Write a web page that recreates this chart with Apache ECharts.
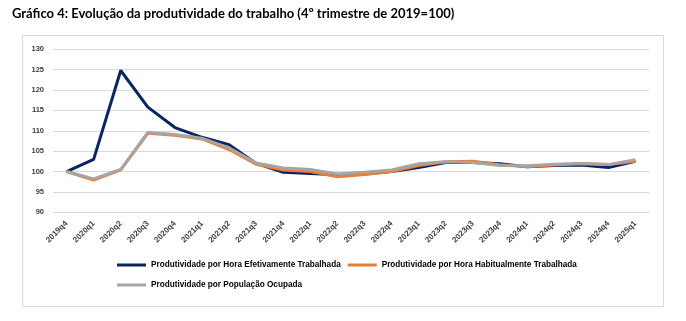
<!DOCTYPE html>
<html><head><meta charset="utf-8">
<script src="https://cdn.jsdelivr.net/npm/echarts@6/dist/echarts.min.js"></script>
<style>html,body{margin:0;padding:0;background:#fff}#c{width:686px;height:321px}</style>
</head><body><div id="c"></div>
<script>
const categories = ['2019q4','2020q1','2020q2','2020q3','2020q4','2021q1','2021q2','2021q3','2021q4','2022q1','2022q2','2022q3','2022q4','2023q1','2023q2','2023q3','2023q4','2024q1','2024q2','2024q3','2024q4','2025q1'];
const efetiva = [100, 103, 124.8, 115.8, 110.8, 108.4, 106.6, 102, 99.8, 99.5, 99.2, 99.4, 100, 101, 102.2, 102.2, 101.9, 101.2, 101.5, 101.6, 101, 102.5];
const habitual = [100, 97.9, 100.4, 109.4, 108.9, 108, 105.4, 101.8, 100.4, 100, 98.7, 99.3, 100, 101.5, 102.4, 102.5, 101.7, 101.2, 101.6, 102, 101.7, 102.5];
const populacao = [100, 98.2, 100.5, 109.6, 109.1, 108.2, 105.8, 102.1, 100.9, 100.5, 99.4, 99.8, 100.4, 101.9, 102.4, 102.2, 101.5, 101.4, 101.8, 102, 101.7, 102.9];
const names = ['Produtividade por Hora Efetivamente Trabalhada','Produtividade por Hora Habitualmente Trabalhada','Produtividade por População Ocupada'];
const yTicks = {min: 90, max: 130, interval: 5};

const chart = echarts.init(document.getElementById('c'), null, {renderer: 'canvas'});
const lg = {fontFamily: 'Liberation Sans Narrow, Liberation Sans', fontSize: 8.2, fontWeight: 'bold', color: '#000'};
chart.setOption({
  backgroundColor: '#fff',
  animation: false,
  title: {text: 'Gráfico 4: Evolução da produtividade do trabalho (4º trimestre de 2019=100)', left: 7, top: 2,
    textStyle: {fontFamily: 'Lato', fontWeight: 'bold', fontSize: 13, color: '#000'}},
  graphic: [{type: 'rect', shape: {x: 22.5, y: 35.5, width: 641, height: 271}, style: {fill: 'none', stroke: '#d9d9d9', lineWidth: 1}, z: -1}],
  legend: [
    {data: [names[0], names[1]], left: 117, top: 261, itemWidth: 29, itemHeight: 3, itemGap: 7, icon: 'rect', textStyle: lg, padding: 0},
    {data: [names[2]], left: 117, top: 281, itemWidth: 29, itemHeight: 3, itemGap: 7, icon: 'rect', textStyle: lg, padding: 0}
  ],
  grid: {left: 53, right: 37, top: 49.3, bottom: 108.7, containLabel: false},
  xAxis: {type: 'category', data: categories, boundaryGap: true,
    axisLine: {show: false}, axisTick: {show: false},
    axisLabel: {rotate: 45, interval: 0, margin: 10, fontFamily: 'Liberation Sans Narrow, Liberation Sans', fontSize: 8, fontWeight: 'bold', color: '#404040'}},
  yAxis: {type: 'value', min: yTicks.min, max: yTicks.max, interval: yTicks.interval,
    splitLine: {lineStyle: {color: '#d9d9d9', width: 1}},
    axisLine: {show: false}, axisTick: {show: false},
    axisLabel: {margin: 9, fontFamily: 'Liberation Sans Narrow, Liberation Sans', fontSize: 7.5, fontWeight: 'bold', color: '#404040'}},
  series: [
    {name: names[0], type: 'line', data: efetiva, symbol: 'none', lineStyle: {color: '#0d2463', width: 3}, itemStyle: {color: '#0d2463'}},
    {name: names[1], type: 'line', data: habitual, symbol: 'none', lineStyle: {color: '#ed7d31', width: 3}, itemStyle: {color: '#ed7d31'}},
    {name: names[2], type: 'line', data: populacao, symbol: 'none', lineStyle: {color: '#a5a5a5', width: 3}, itemStyle: {color: '#a5a5a5'}}
  ]
});
</script></body></html>
